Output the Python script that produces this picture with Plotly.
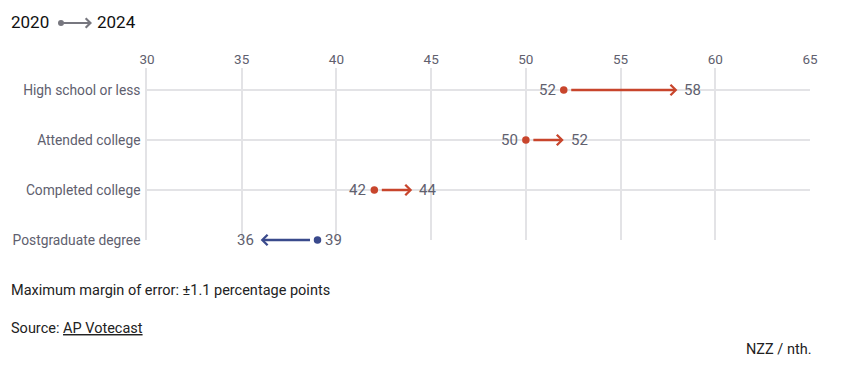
import plotly.graph_objects as go

categories = ["High school or less", "Attended college", "Completed college", "Postgraduate degree"]
values_2020 = [52, 50, 42, 39]
values_2024 = [58, 52, 44, 36]
x_ticks = [30, 35, 40, 45, 50, 55, 60, 65]

RED = "#c8452c"
BLUE = "#3a4a8c"
TXT = "#60606e"
GRID = "#e3e3e6"
FONT = "Roboto, Arial, sans-serif"

OFF = 8  # page body margin
W, H = 844, 377
ML, MR, MT, MB = 147 - OFF, 34 + OFF, 68 - OFF, 137 + OFF
plot_w = W - ML - MR
plot_h = H - MT - MB

def paper_x(px):
    return (px - OFF - ML) / plot_w

def paper_y(py):
    return (H - MB - (py - OFF)) / plot_h

ypos = [len(categories) - 1 - i for i in range(len(categories))]

fig = go.Figure()

for c, y, a, b in zip(categories, ypos, values_2020, values_2024):
    col = RED if b > a else BLUE
    fig.add_annotation(x=b, y=y, ax=a, ay=y, xref="x", yref="y", axref="x", ayref="y",
                       text="", showarrow=True, arrowhead=4, arrowsize=0.85, arrowwidth=2.4,
                       arrowcolor=col, startstandoff=6, standoff=0)
    fig.add_trace(go.Scatter(x=[a], y=[y], mode="markers", marker=dict(size=7.5, color=col),
                             hoverinfo="skip", showlegend=False, cliponaxis=False))
    fig.add_annotation(x=a, y=y, xref="x", yref="y", text=str(a), showarrow=False,
                       xanchor="right" if b > a else "left", xshift=-6 if b > a else 6,
                       font=dict(size=15, color=TXT, family=FONT))
    fig.add_annotation(x=b, y=y, xref="x", yref="y", text=str(b), showarrow=False,
                       xanchor="left" if b > a else "right", xshift=5 if b > a else -5,
                       font=dict(size=15, color=TXT, family=FONT))

fig.update_layout(
    width=W, height=H,
    margin=dict(l=ML, r=MR, t=MT, b=MB),
    paper_bgcolor="white", plot_bgcolor="white",
    font=dict(family=FONT, color=TXT),
    xaxis=dict(side="top", range=[30, 65], tickvals=x_ticks, showgrid=True, gridcolor=GRID,
               gridwidth=1.5, zeroline=False, showline=False, ticks="", automargin=False,
               tickfont=dict(size=13.5, color=TXT, family=FONT), fixedrange=True),
    yaxis=dict(range=[0, 3.44], tickvals=ypos, ticktext=categories, showgrid=True,
               gridcolor=GRID, gridwidth=1.5, zeroline=False, showline=True,
               linecolor=GRID, linewidth=1.5, ticks="",
               ticklabelstandoff=2, automargin=False,
               tickfont=dict(size=13.8, color=TXT, family=FONT), fixedrange=True),
)

fig.add_annotation(x=paper_x(9), y=paper_y(22), xref="paper", yref="paper", text="2020",
                   showarrow=False, xanchor="left", yanchor="middle",
                   font=dict(size=17, color="#111", family=FONT))
fig.add_annotation(x=paper_x(95), y=paper_y(22), xref="paper", yref="paper", text="2024",
                   showarrow=False, xanchor="left", yanchor="middle",
                   font=dict(size=17, color="#111", family=FONT))
fig.add_annotation(x=paper_x(92), y=paper_y(23), ax=-30, ay=0,
                   xref="paper", yref="paper", axref="pixel", ayref="pixel", text="",
                   showarrow=True, arrowhead=4, arrowsize=0.85, arrowwidth=2.2, arrowcolor="#77777f")
fig.add_shape(type="circle", xref="paper", yref="paper",
              x0=paper_x(58), x1=paper_x(64), y0=paper_y(20), y1=paper_y(26),
              fillcolor="#77777f", line=dict(width=0))

fig.add_annotation(x=paper_x(9), y=paper_y(290), xref="paper", yref="paper",
                   text="Maximum margin of error: ±1.1 percentage points", showarrow=False,
                   xanchor="left", yanchor="middle", font=dict(size=14.5, color="#222", family=FONT))
fig.add_annotation(x=paper_x(9), y=paper_y(328), xref="paper", yref="paper",
                   text="Source: <u>AP Votecast</u>", showarrow=False,
                   xanchor="left", yanchor="middle", font=dict(size=14.5, color="#222", family=FONT))
fig.add_annotation(x=paper_x(813), y=paper_y(349), xref="paper", yref="paper",
                   text="NZZ / nth.", showarrow=False,
                   xanchor="right", yanchor="middle", font=dict(size=14.5, color="#222", family=FONT))

fig.write_html("out.html")
